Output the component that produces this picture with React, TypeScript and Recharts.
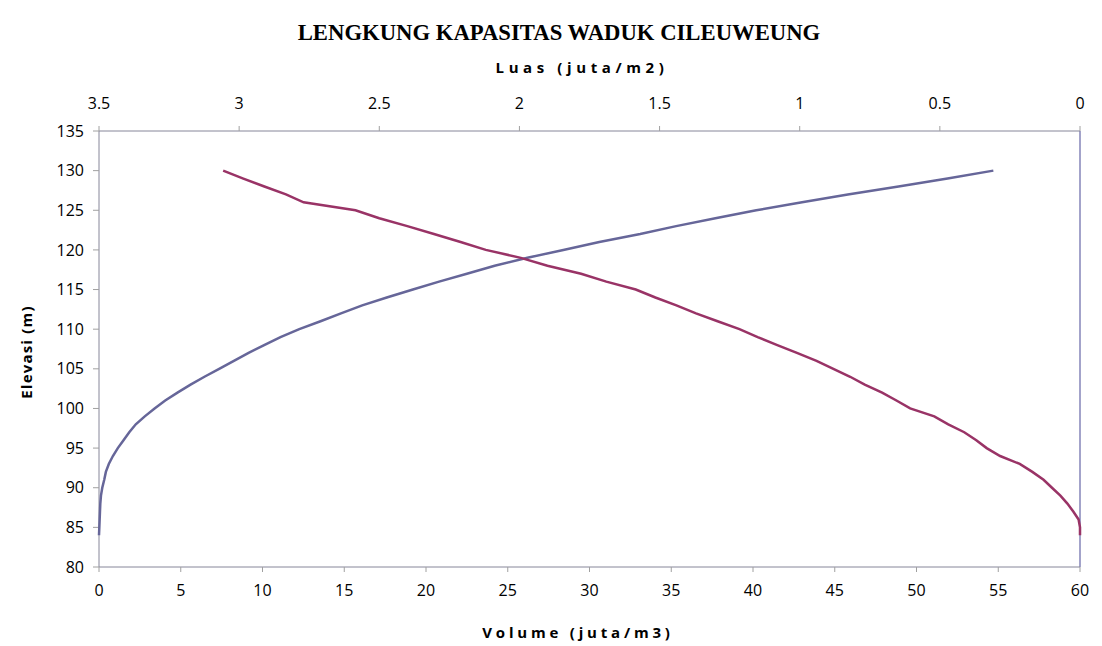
import { ScatterChart, Scatter, XAxis, YAxis, ReferenceLine } from 'recharts';

const elevasi = [
  84, 85, 86, 87, 88, 89, 90, 91, 92, 93, 94, 95, 96, 97, 98, 99, 100, 101, 102, 103, 104, 105, 106,
  107, 108, 109, 110, 111, 112, 113, 114, 115, 116, 117, 118, 119, 120, 121, 122, 123, 124, 125, 126,
  127, 128, 129, 130,
];

// volume (juta m3), bottom axis
const volume = [
  0, 0.02, 0.04, 0.06, 0.08, 0.12, 0.2, 0.32, 0.42, 0.6, 0.85, 1.15, 1.5, 1.85, 2.25, 2.8, 3.4, 4.05,
  4.8, 5.6, 6.45, 7.35, 8.25, 9.15, 10.1, 11.1, 12.25, 13.55, 14.8, 16.1, 17.6, 19.2, 20.8, 22.5, 24.2,
  26.2, 28.4, 30.6, 33.1, 35.3, 37.7, 40.2, 43.0, 45.8, 48.9, 51.9, 54.7,
];

// luas (juta m2), top axis (reversed)
const luas = [
  0, 0, 0.005, 0.024, 0.045, 0.07, 0.1, 0.13, 0.17, 0.215, 0.285, 0.333, 0.37, 0.413, 0.47, 0.52,
  0.606, 0.655, 0.706, 0.768, 0.82, 0.88, 0.94, 1.01, 1.08, 1.15, 1.215, 1.293, 1.37, 1.44, 1.515,
  1.585, 1.69, 1.78, 1.9, 1.995, 2.12, 2.21, 2.305, 2.4, 2.5, 2.585, 2.77, 2.833, 2.91, 2.985, 3.057,
];

const elevTicks = [80, 85, 90, 95, 100, 105, 110, 115, 120, 125, 130, 135];
const volTicks = [0, 5, 10, 15, 20, 25, 30, 35, 40, 45, 50, 55, 60];
const luasTicks = [0, 0.5, 1, 1.5, 2, 2.5, 3, 3.5];

const volumeData = elevasi.map((e, i) => ({ elev: e, vol: volume[i] }));
const luasData = elevasi.map((e, i) => ({ elev: e, luas: luas[i] }));

const axisColor = '#868699';
const tickFont = { fill: '#000', fontSize: 16, fontFamily: 'Open Sans' };
const noDot = () => <g />;

const axisTitle = {
  position: 'absolute' as const,
  textAlign: 'center' as const,
  fontFamily: 'Open Sans',
  fontWeight: 'bold',
  fontSize: 15,
  lineHeight: '20px',
};

export default function App() {
  return (
    <div
      style={{
        position: 'relative',
        margin: '-1px 0 0 -1px',
        width: 1095,
        height: 639,
        borderTop: '1px solid #000',
        borderLeft: '1px solid #000',
        background: '#fff',
        overflow: 'hidden',
      }}
    >
      <div
        style={{
          position: 'absolute',
          left: 201,
          top: 12,
          width: 700,
          textAlign: 'center',
          fontFamily: '"Liberation Serif", serif',
          fontWeight: 'bold',
          fontSize: 22.7,
          lineHeight: '26px',
        }}
      >
        LENGKUNG KAPASITAS WADUK CILEUWEUNG
      </div>
      <div style={{ ...axisTitle, left: 374, top: 49, width: 400, letterSpacing: 4.6 }}>
        Luas (juta/m2)
      </div>
      <div style={{ ...axisTitle, left: 370, top: 614, width: 400, letterSpacing: 3.8 }}>
        Volume (juta/m3)
      </div>
      <div
        style={{
          ...axisTitle,
          left: 18 - 100,
          top: 344 - 10,
          width: 200,
          letterSpacing: 1.2,
          transform: 'rotate(-90deg)',
        }}
      >
        Elevasi (m)
      </div>
      <ScatterChart width={1094} height={638} margin={{ top: 83, right: 22, bottom: 39, left: 31 }}>
        <XAxis
          xAxisId="vol"
          type="number"
          dataKey="vol"
          orientation="bottom"
          domain={[0, 60]}
          ticks={volTicks}
          interval={0}
          height={40}
          stroke={axisColor}
          tickSize={5}
          tickMargin={13}
          tickLine={{ stroke: '#a0a0a0' }}
          tick={tickFont}
        />
        <XAxis
          xAxisId="luas"
          type="number"
          dataKey="luas"
          orientation="top"
          reversed
          domain={[0, 3.5]}
          ticks={luasTicks}
          interval={0}
          height={40}
          stroke={axisColor}
          tickSize={5}
          tickMargin={17}
          tickLine={{ stroke: '#a0a0a0' }}
          tick={tickFont}
        />
        <YAxis
          type="number"
          dataKey="elev"
          domain={[80, 135]}
          ticks={elevTicks}
          interval={0}
          width={60}
          stroke={axisColor}
          tickSize={6}
          tickMargin={9}
          tickLine={{ stroke: '#a0a0a0' }}
          tick={tickFont}
        />
        <ReferenceLine xAxisId="vol" x={60} stroke="#8484b8" strokeWidth={1.5} />
        <Scatter
          xAxisId="vol"
          data={volumeData}
          line={{ stroke: '#666699', strokeWidth: 2.5 }}
          lineType="joint"
          shape={noDot}
          isAnimationActive={false}
        />
        <Scatter
          xAxisId="luas"
          data={luasData}
          line={{ stroke: '#993366', strokeWidth: 2.5 }}
          lineType="joint"
          shape={noDot}
          isAnimationActive={false}
        />
      </ScatterChart>
    </div>
  );
}
